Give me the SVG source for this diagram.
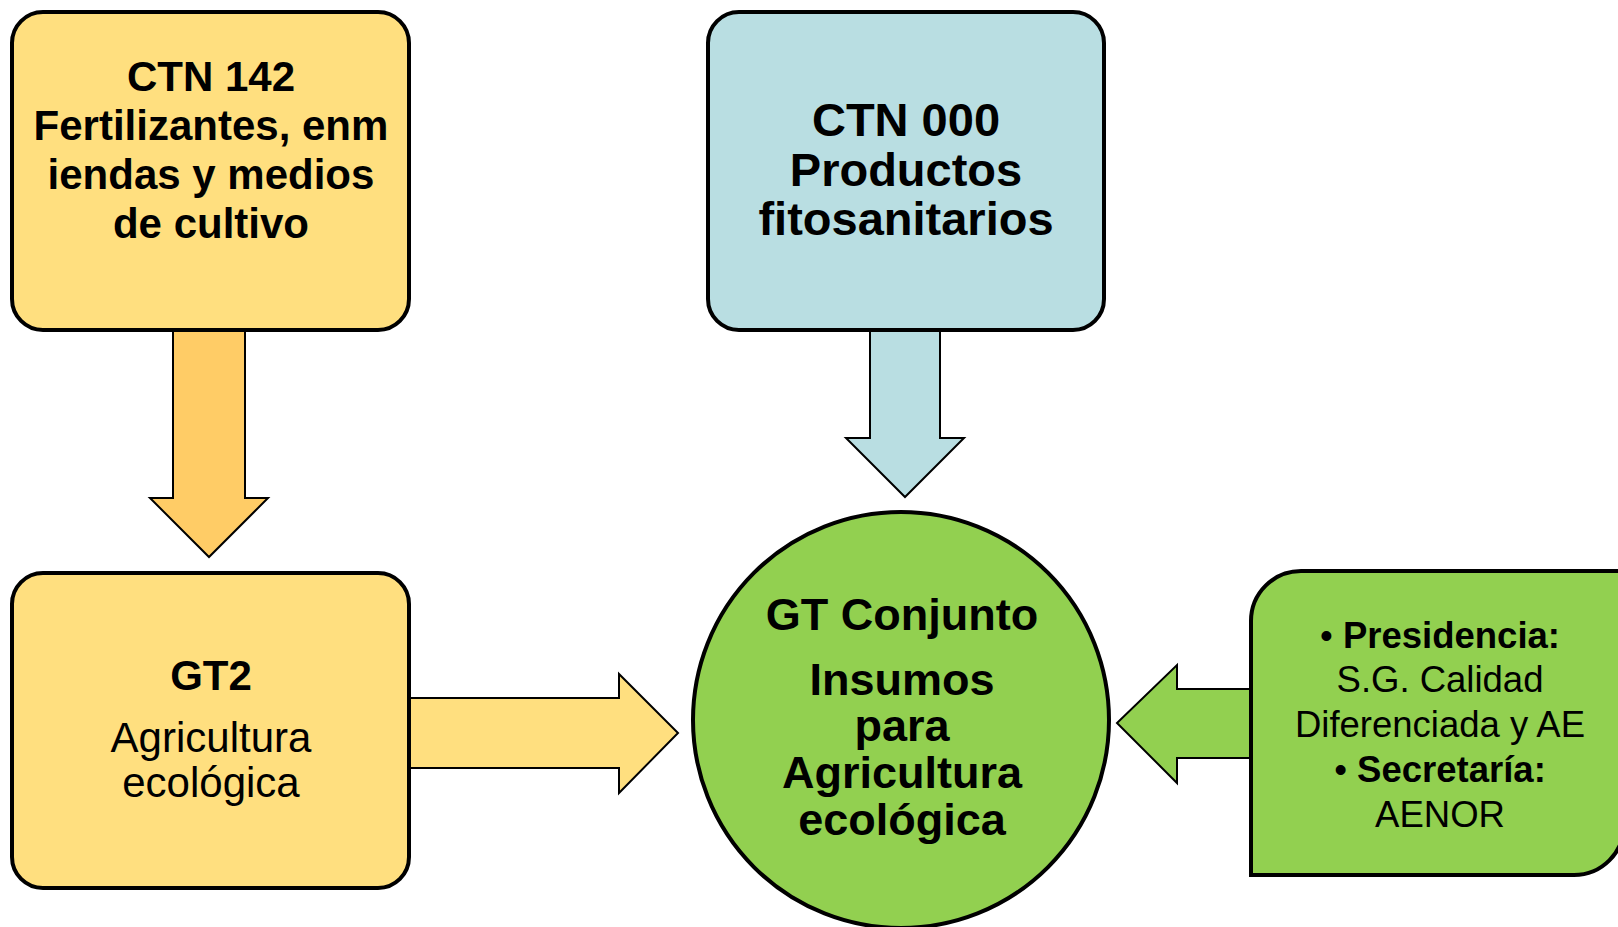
<svg xmlns="http://www.w3.org/2000/svg" width="1618" height="927" viewBox="0 0 1618 927">
<style>
.box{stroke:#000;stroke-width:4}
.arr{stroke:#000;stroke-width:2;stroke-linejoin:miter}
.t{font-family:"Liberation Sans",Arial,sans-serif;fill:#000;text-anchor:middle}
.b{font-weight:bold}
</style>
<rect width="1618" height="927" fill="#fff"/>
<g id="connectors">
<polygon class="arr" fill="#FFCC66" points="173,330 245,330 245,498 268,498 209,557 150,498 173,498"/>
<polygon class="arr" fill="#B9DEE2" points="870,330 940,330 940,438 964,438 905,497 846,438 870,438"/>
<polygon class="arr" fill="#FFDF7F" points="409,698 619,698 619,674 678,733 619,793 619,768 409,768"/>
<polygon class="arr" fill="#92D050" points="1252,689 1177,689 1177,665 1117,723 1177,783 1177,758 1252,758"/>
</g>
<g id="ctn142">
<rect class="box" x="12" y="12" width="397" height="318" rx="31" fill="#FFDF7F"/>
<text class="t b" font-size="42"><tspan x="211" y="91">CTN 142</tspan><tspan x="211" y="140">Fertilizantes, enm</tspan><tspan x="211" y="189">iendas y medios</tspan><tspan x="211" y="238">de cultivo</tspan></text>
</g>
<g id="ctn000">
<rect class="box" x="708" y="12" width="396" height="318" rx="31" fill="#B9DEE2"/>
<text class="t b" font-size="47"><tspan x="906" y="136">CTN 000</tspan><tspan x="906" y="186">Productos</tspan><tspan x="906" y="235">fitosanitarios</tspan></text>
</g>
<g id="gt2">
<rect class="box" x="12" y="573" width="397" height="315" rx="31" fill="#FFDF7F"/>
<text class="t b" font-size="42" x="211" y="690">GT2</text>
<text class="t" font-size="42"><tspan x="211" y="752">Agricultura</tspan><tspan x="211" y="797">ecológica</tspan></text>
</g>
<g id="gtconjunto">
<circle class="box" cx="901" cy="720" r="208" fill="#92D050"/>
<text class="t b" font-size="45"><tspan x="902" y="630">GT Conjunto</tspan><tspan x="902" y="695">Insumos</tspan><tspan x="902" y="741">para</tspan><tspan x="902" y="788">Agricultura</tspan><tspan x="902" y="835">ecológica</tspan></text>
</g>
<g id="presidencia">
<path class="box" fill="#92D050" d="M1251,875 L1251,621 A50,50 0 0 1 1301,571 L1630,571 L1630,825 L1624,825 A50,50 0 0 1 1574,875 Z"/>
<text class="t" font-size="36.5"><tspan x="1440" y="648">• <tspan class="b">Presidencia:</tspan></tspan><tspan x="1440" y="692">S.G. Calidad</tspan><tspan x="1440" y="737">Diferenciada y AE</tspan><tspan x="1440" y="782">• <tspan class="b">Secretaría:</tspan></tspan><tspan x="1440" y="827">AENOR</tspan></text>
</g>
</svg>
